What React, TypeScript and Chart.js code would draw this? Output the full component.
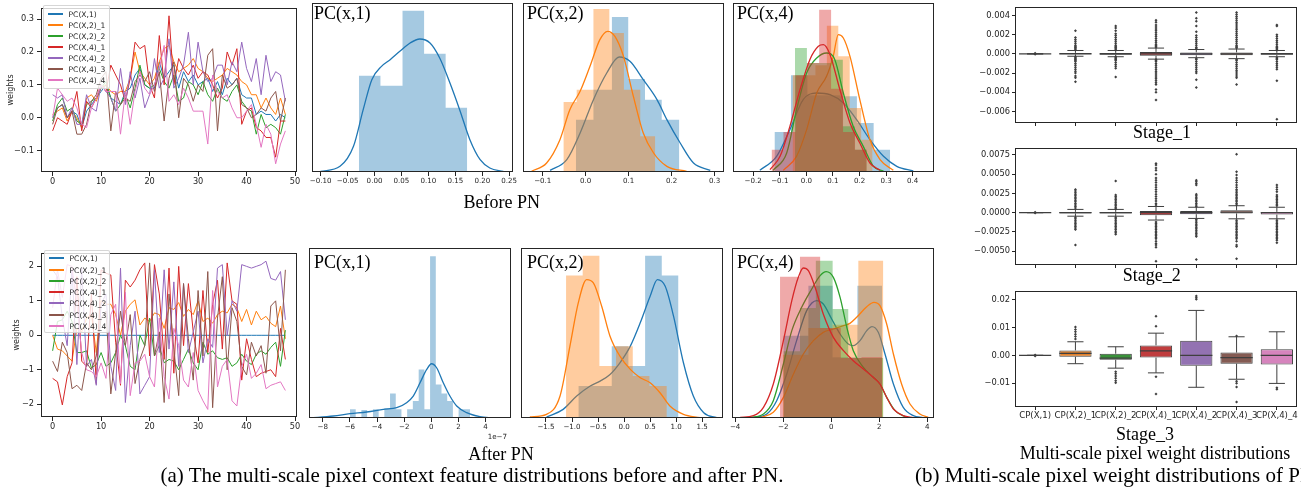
import React, { useEffect, useRef } from "react";
import { Chart, registerables } from "chart.js";

Chart.register(...registerables);

// ===================== DATA =====================
const SERIES_NAMES = ["PC(X,1)", "PC(X,2)_1", "PC(X,2)_2", "PC(X,4)_1", "PC(X,4)_2", "PC(X,4)_3", "PC(X,4)_4"];
const LINE_X_TICKS = [0, 10, 20, 30, 40, 50];
const BEFORE_Y_TICKS = [-0.1, 0, 0.1, 0.2, 0.3];
const AFTER_Y_TICKS = [-2, -1, 0, 1, 2];

// ---- line chart, before PN ----
const BEFORE_PC1 = [
  0.00, 0.03, 0.04, 0.00, 0.02, 0.01, -0.03, 0.02, 0.04, 0.06,
  0.08, 0.10, 0.06, 0.05, 0.04, 0.08, 0.09, 0.13, 0.15, 0.10,
  0.09, 0.09, 0.17, 0.12, 0.14, 0.16, 0.09, 0.14, 0.11, 0.13,
  0.10, 0.11, 0.12, 0.08, 0.11, 0.07, 0.12, 0.10, 0.12, 0.07,
  0.06, 0.06, 0.01, 0.02, 0.01, 0.01, -0.01, 0.01, 0.00];
const BEFORE_PC2_1 = [
  0.01, 0.02, 0.03, -0.01, 0.02, 0.00, -0.03, 0.06, 0.07, 0.05,
  0.09, 0.10, 0.08, 0.07, 0.08, 0.08, 0.12, 0.20, 0.14, 0.12,
  0.10, 0.12, 0.17, 0.21, 0.22, 0.17, 0.14, 0.15, 0.16, 0.18,
  0.15, 0.14, 0.12, 0.11, 0.12, 0.13, 0.15, 0.14, 0.13, 0.11,
  0.10, 0.07, 0.07, 0.03, 0.06, 0.03, 0.01, 0.06, 0.01];
const BEFORE_PC2_2 = [
  -0.01, 0.04, 0.06, 0.02, 0.03, -0.01, -0.02, 0.04, 0.05, 0.06,
  0.09, 0.11, 0.06, 0.02, 0.04, 0.07, 0.03, 0.09, 0.16, 0.10,
  0.09, 0.10, 0.15, 0.11, 0.09, 0.13, 0.05, 0.06, 0.11, 0.10,
  0.07, 0.11, 0.07, 0.05, 0.09, 0.06, 0.05, 0.08, 0.10, 0.05,
  0.03, 0.02, -0.05, 0.01, -0.03, -0.02, -0.03, -0.05, 0.01];
const BEFORE_PC4_1 = [
  -0.04, 0.00, -0.01, -0.02, 0.02, 0.08, -0.04, 0.05, 0.03, 0.06,
  0.10, 0.08, 0.16, 0.13, 0.10, 0.05, 0.12, 0.23, 0.21, 0.22,
  0.10, 0.06, 0.25, 0.10, 0.31, 0.10, 0.18, 0.15, 0.13, 0.16,
  0.12, 0.14, 0.13, 0.10, 0.06, 0.09, 0.20, 0.16, 0.21, -0.02,
  0.02, 0.03, -0.03, -0.04, -0.06, -0.06, -0.12, -0.01, -0.01];
const BEFORE_PC4_2 = [
  0.07, 0.06, 0.07, 0.00, 0.03, -0.02, -0.02, 0.07, 0.03, 0.02,
  0.10, 0.08, 0.06, 0.02, 0.15, 0.04, 0.14, 0.06, 0.12, 0.03,
  0.07, 0.18, 0.09, 0.12, 0.24, 0.09, 0.12, 0.16, 0.26, 0.10,
  0.23, 0.14, 0.11, 0.12, 0.16, 0.16, 0.10, 0.17, 0.14, 0.23,
  0.15, 0.11, 0.18, 0.07, 0.19, 0.11, 0.14, 0.13, 0.05];
const BEFORE_PC4_3 = [
  -0.02, 0.03, 0.04, 0.00, 0.02, -0.05, -0.05, -0.02, 0.05, 0.07,
  0.12, 0.14, -0.04, 0.08, 0.04, 0.06, 0.05, 0.11, 0.13, 0.11,
  0.14, 0.08, 0.14, -0.01, 0.12, 0.17, 0.00, 0.12, 0.10, 0.05,
  0.10, 0.08, 0.19, 0.21, -0.04, 0.13, 0.09, 0.10, 0.12, 0.04,
  0.03, 0.00, 0.01, 0.03, 0.02, 0.06, 0.08, -0.01, 0.06];
const BEFORE_PC4_4 = [
  0.00, 0.09, 0.07, 0.05, 0.06, 0.03, -0.02, -0.03, 0.03, 0.06,
  0.10, 0.08, 0.08, 0.08, -0.05, 0.08, -0.02, 0.08, 0.14, 0.09,
  0.07, 0.10, 0.15, 0.22, 0.05, 0.07, 0.04, 0.09, 0.06, 0.02,
  0.02, 0.02, -0.08, 0.13, 0.08, 0.06, 0.07, 0.03, 0.00, 0.00,
  0.02, 0.04, -0.02, -0.09, -0.02, -0.05, -0.14, -0.08, -0.04];

// ---- line chart, after PN ----
const AFTER_PC1 = [
  0, 0, 0, 0, 0, 0, 0, 0, 0, 0,
  0, 0, 0, 0, 0, 0, 0, 0, 0, 0,
  0, 0, 0, 0, 0, 0, 0, 0, 0, 0,
  0, 0, 0, 0, 0, 0, 0, 0, 0, 0,
  0, 0, 0, 0, 0, 0, 0, 0, 0];
const AFTER_PC2_1 = [
  0.00, -0.40, -0.45, -0.60, -0.75, 0.20, 0.10, 0.50, 0.60, -0.50,
  1.00, 0.90, 0.90, 0.60, 0.00, 0.70, 0.90, 1.03, 0.30, 0.50,
  0.40, 0.65, 0.60, 0.20, 0.80, 0.75, 0.95, 0.55, 0.75, 0.60,
  1.00, 0.40, 0.50, 0.35, 0.60, 0.70, 0.65, 0.90, 0.80, 0.40,
  0.75, 0.30, 0.70, 0.45, 0.55, 0.35, 0.25, 0.85, -0.10];
const AFTER_PC2_2 = [
  -0.45, 0.40, 0.45, 0.70, 0.40, -0.50, -0.50, -0.45, -0.95, -0.85,
  -0.50, -0.90, -0.80, -0.50, 0.00, -0.30, -0.90, -1.00, 0.00, -0.30,
  0.50, -0.60, -0.30, -0.80, -0.70, -0.75, -1.00, -0.70, -0.40, -0.80,
  -1.00, -0.20, -0.55, -0.45, -0.65, -0.70, -0.65, -0.90, -0.80, -0.55,
  -0.75, -0.85, -0.55, -0.45, -0.55, -0.35, -0.20, -0.90, 0.15];
const AFTER_PC4_1 = [
  -1.25, -1.35, -2.02, -1.20, -0.80, 1.70, -0.75, -0.90, 1.20, -1.40,
  1.90, 1.80, 1.75, -0.20, -1.45, 1.60, 1.40, 1.60, 1.90, 2.10,
  -0.60, 2.05, 1.20, -0.70, 1.95, -1.10, 2.00, -0.30, 1.50, 0.10,
  -0.80, 1.30, -0.50, 0.90, 1.60, -0.40, 2.10, 1.00, 0.90, -1.30,
  -0.10, -0.70, -1.20, -1.10, -1.05, -1.00, -1.20, 0.20, -0.70];
const AFTER_PC4_2 = [
  1.90, 1.70, 0.50, -0.30, 1.90, -0.85, 1.95, -0.90, -0.70, -1.45,
  0.90, 1.20, -0.90, -1.60, 1.95, -1.95, -0.30, 0.70, -1.70, -1.45,
  -1.20, 1.90, -0.50, 1.90, -0.40, 1.55, -0.90, 1.50, -0.50, 0.10,
  0.70, -0.80, -0.10, -0.35, 1.95, 2.05, 0.00, 1.00, 0.70, 2.05,
  2.00, 1.95, 2.00, 2.05, 2.15, 1.65, 1.60, 1.85, 0.45];
const AFTER_PC4_3 = [
  -0.75, -1.05, -0.20, -0.50, -1.55, -1.45, -1.60, -0.80, -1.00, -0.60,
  0.50, 0.70, -1.70, -0.50, 0.70, -0.30, 0.60, -1.40, -0.70, -0.30,
  2.10, -0.60, 0.10, -1.95, 1.20, -0.40, -1.75, 1.50, -0.10, -1.30,
  1.30, -0.60, 1.85, -2.10, 0.50, 1.70, -1.00, 0.80, 0.40, -0.90,
  -1.15, -0.20, -0.60, -0.30, -1.10, 0.85, 1.00, -0.45, 1.90];
const AFTER_PC4_4 = [
  0.80, 1.90, 1.10, 2.05, 2.00, 0.90, -0.50, -1.00, -1.05, -1.20,
  -0.80, -1.25, 0.60, 0.90, -1.40, 1.25, -1.75, -0.80, -0.75, -0.55,
  -1.20, -1.50, 0.50, -1.20, -1.85, 0.20, -0.30, -1.30, -1.50, -0.50,
  -1.60, -1.90, -2.15, 1.30, -1.50, -0.90, -0.70, -1.90, -2.05, -0.90,
  -0.55, -1.25, -1.10, -0.85, -1.55, -1.45, -1.40, -1.35, -1.60];

// ---- histograms (relative density) + KDE curves ----
const H1_TICKS = [-0.1, -0.05, 0, 0.05, 0.1, 0.15, 0.2, 0.25];
const B1_BLUE_EDGES = [-0.029, 0.011, 0.052, 0.092, 0.132, 0.172];
const B1_BLUE_H = [2.89, 2.59, 4.84, 3.55, 1.93];
const B1_BLUE_KX = [-0.100, -0.064, -0.039, -0.021, -0.005, 0.013, 0.029, 0.047, 0.066, 0.084, 0.103, 0.121, 0.140, 0.158, 0.177, 0.196, 0.214, 0.239];
const B1_BLUE_KY = [0.02, 0.17, 0.77, 1.87, 2.77, 3.17, 3.37, 3.62, 3.87, 3.99, 3.87, 3.42, 2.67, 1.87, 0.97, 0.37, 0.12, 0.02];

const H2_TICKS = [-0.1, 0, 0.1, 0.2, 0.3];
const B2_BLUE_EDGES = [-0.023, 0.018, 0.061, 0.099, 0.138, 0.177, 0.218];
const B2_BLUE_H = [1.57, 2.47, 4.65, 2.79, 2.17, 1.57];
const B2_BLUE_KX = [-0.083, -0.044, -0.013, 0.018, 0.049, 0.078, 0.103, 0.134, 0.166, 0.189, 0.220, 0.251, 0.290];
const B2_BLUE_KY = [0.05, 0.37, 1.17, 2.17, 2.97, 3.45, 3.32, 2.77, 2.17, 1.57, 0.87, 0.27, 0.05];
const B2_ORANGE_EDGES = [-0.052, -0.021, 0.018, 0.055, 0.089, 0.127, 0.162];
const B2_ORANGE_H = [2.10, 2.47, 4.89, 4.17, 2.47, 1.07];
const B2_ORANGE_KX = [-0.126, -0.091, -0.060, -0.037, -0.013, 0.010, 0.033, 0.051, 0.068, 0.088, 0.111, 0.134, 0.158, 0.189, 0.235];
const B2_ORANGE_KY = [0.02, 0.27, 0.97, 1.87, 2.42, 3.17, 3.97, 4.22, 4.07, 3.47, 2.27, 1.17, 0.57, 0.17, 0.02];

const H3_TICKS = [-0.2, -0.1, 0, 0.1, 0.2, 0.3, 0.4];
const B4_BLUE_EDGES = [-0.12, -0.058, 0.004, 0.066, 0.128, 0.190, 0.253, 0.315];
const B4_BLUE_H = [1.20, 2.90, 2.30, 2.30, 2.27, 1.47, 0.67];
const B4_BLUE_KX = [-0.175, -0.112, -0.062, -0.012, 0.039, 0.089, 0.139, 0.189, 0.239, 0.290, 0.340, 0.402];
const B4_BLUE_KY = [0.05, 0.47, 1.27, 2.17, 2.37, 2.32, 2.07, 1.57, 0.97, 0.47, 0.17, 0.03];
const B4_ORANGE_EDGES = [-0.052, -0.009, 0.034, 0.077, 0.120, 0.163, 0.206, 0.249];
const B4_ORANGE_H = [2.90, 2.90, 3.20, 4.39, 3.47, 1.92, 0.97];
const B4_ORANGE_KX = [-0.087, -0.037, 0.001, 0.039, 0.076, 0.101, 0.120, 0.139, 0.164, 0.201, 0.239, 0.277, 0.327];
const B4_ORANGE_KY = [0.05, 0.47, 1.27, 2.37, 2.87, 3.47, 4.12, 4.02, 3.47, 2.17, 0.97, 0.37, 0.05];
const B4_GREEN_EDGES = [-0.043, 0.002, 0.047, 0.092, 0.137, 0.182, 0.227];
const B4_GREEN_H = [3.72, 3.27, 3.27, 3.37, 1.37, 0.67];
const B4_GREEN_KX = [-0.125, -0.074, -0.037, 0.001, 0.039, 0.076, 0.107, 0.139, 0.176, 0.214, 0.252, 0.290];
const B4_GREEN_KY = [0.05, 0.57, 1.87, 2.97, 3.42, 3.57, 3.37, 2.37, 1.37, 0.77, 0.17, 0.03];
const B4_RED_EDGES = [-0.131, -0.086, -0.041, 0.004, 0.048, 0.093, 0.138, 0.183, 0.227];
const B4_RED_H = [0.67, 1.20, 2.90, 3.27, 4.87, 2.50, 1.20, 0.67];
const B4_RED_KX = [-0.137, -0.099, -0.062, -0.024, 0.013, 0.045, 0.064, 0.089, 0.126, 0.164, 0.201, 0.239, 0.277];
const B4_RED_KY = [0.07, 0.47, 1.37, 2.47, 3.37, 3.77, 3.82, 3.52, 2.47, 1.47, 0.87, 0.27, 0.05];

const H4_TICKS = [-8, -6, -4, -2, 0, 2, 4];
const A1_BLUE_EDGES = [-5.99, -5.57, -5.15, -4.73, -4.30, -3.88, -3.46, -3.04, -2.62, -2.20, -1.78, -1.36, -0.93, -0.51, -0.09, 0.33, 0.75, 1.17, 1.59, 2.01, 2.43, 2.85];
const A1_BLUE_H = [0.26, 0, 0.24, 0, 0.26, 0, 0.29, 0.74, 0.26, 0, 0.26, 0.51, 1.46, 0.26, 4.86, 1.01, 0.74, 0.51, 0, 0.26, 0.26];
const A1_BLUE_KX = [-8.93, -7.21, -5.99, -4.76, -3.53, -2.55, -1.82, -1.33, -0.83, -0.34, 0.02, 0.39, 0.88, 1.37, 1.87, 2.60, 3.58, 4.56];
const A1_BLUE_KY = [0.00, 0.06, 0.13, 0.18, 0.26, 0.31, 0.46, 0.66, 1.06, 1.46, 1.63, 1.51, 1.06, 0.66, 0.36, 0.16, 0.04, 0.00];

const H5_TICKS = [-1.5, -1, -0.5, 0, 0.5, 1, 1.5];
const A2_BLUE_EDGES = [-0.878, -0.558, -0.237, 0.083, 0.404, 0.724, 1.045];
const A2_BLUE_H = [0.96, 0.96, 2.16, 1.56, 4.88, 4.28];
const A2_BLUE_KX = [-1.49, -1.17, -0.91, -0.65, -0.46, -0.27, -0.08, 0.12, 0.31, 0.50, 0.64, 0.79, 0.95, 1.14, 1.33, 1.53, 1.78];
const A2_BLUE_KY = [0.03, 0.26, 0.66, 0.96, 1.11, 1.31, 1.66, 2.16, 2.86, 3.66, 4.16, 3.96, 3.06, 1.66, 0.66, 0.16, 0.01];
const A2_ORANGE_EDGES = [-1.115, -0.795, -0.474, -0.154, 0.167, 0.487, 0.821];
const A2_ORANGE_H = [4.28, 4.88, 1.56, 2.16, 1.26, 0.96];
const A2_ORANGE_KX = [-1.81, -1.49, -1.23, -1.04, -0.88, -0.72, -0.59, -0.43, -0.27, -0.08, 0.12, 0.31, 0.50, 0.69, 0.88, 1.14, 1.46];
const A2_ORANGE_KY = [0.03, 0.11, 0.66, 2.16, 3.46, 4.16, 4.06, 3.36, 2.46, 1.86, 1.46, 1.21, 1.06, 0.76, 0.36, 0.11, 0.01];

const H6_TICKS = [-4, -2, 0, 2, 4];
const A4_BLUE_EDGES = [-1.99, -0.95, 0.06, 1.09, 2.12];
const A4_BLUE_H = [2.47, 3.97, 1.82, 3.97];
const A4_BLUE_KX = [-3.24, -2.68, -2.27, -1.85, -1.44, -1.02, -0.60, -0.33, 0.02, 0.37, 0.71, 0.92, 1.20, 1.48, 1.70, 1.96, 2.24, 2.59, 3.00, 3.42, 3.83];
const A4_BLUE_KY = [0.01, 0.12, 0.52, 1.32, 2.32, 3.22, 3.52, 3.42, 2.97, 2.52, 2.22, 2.17, 2.32, 2.62, 2.74, 2.57, 1.92, 1.02, 0.32, 0.07, 0.01];
const A4_ORANGE_EDGES = [-2.02, -0.95, 0.06, 1.13, 2.17];
const A4_ORANGE_H = [1.90, 2.70, 2.80, 4.72];
const A4_ORANGE_KX = [-2.96, -2.41, -1.99, -1.57, -1.16, -0.74, -0.33, 0.09, 0.51, 0.78, 1.06, 1.48, 1.78, 2.03, 2.31, 2.59, 2.93, 3.28, 3.69, 4.04];
const A4_ORANGE_KY = [0.01, 0.17, 0.62, 1.32, 1.92, 2.32, 2.57, 2.67, 2.77, 2.84, 3.02, 3.34, 3.47, 3.37, 2.82, 1.92, 1.02, 0.42, 0.12, 0.02];
const A4_GREEN_EDGES = [-1.99, -1.30, -0.64, 0.06, 0.71, 1.45, 2.17];
const A4_GREEN_H = [2.00, 3.30, 4.72, 3.27, 1.80, 1.80];
const A4_GREEN_KX = [-3.38, -2.82, -2.41, -1.99, -1.64, -1.23, -0.81, -0.46, -0.21, 0.09, 0.37, 0.65, 0.92, 1.34, 1.75, 2.03, 2.31, 2.66, 3.14];
const A4_GREEN_KY = [0.01, 0.12, 0.52, 1.62, 2.62, 3.32, 3.87, 4.27, 4.39, 4.22, 3.62, 2.72, 2.02, 1.52, 1.22, 1.02, 0.62, 0.22, 0.02];
const A4_RED_EDGES = [-2.13, -1.30, -0.46, 0.40, 1.26, 2.12];
const A4_RED_H = [4.24, 4.84, 2.70, 1.80, 1.82];
const A4_RED_KX = [-3.79, -3.24, -2.82, -2.41, -1.99, -1.64, -1.37, -1.16, -0.95, -0.67, -0.33, 0.09, 0.51, 0.92, 1.34, 1.75, 2.03, 2.31, 2.59, 3.00, 3.42];
const A4_RED_KY = [0.02, 0.07, 0.32, 1.02, 2.32, 3.52, 4.22, 4.50, 4.42, 3.92, 3.12, 2.42, 2.02, 1.72, 1.47, 1.22, 1.02, 0.62, 0.27, 0.07, 0.01];

// ---- box plots ----
const BOX_CATS = ["CP(X,1)", "CP(X,2)_1", "CP(X,2)_2", "CP(X,4)_1", "CP(X,4)_2", "CP(X,4)_3", "CP(X,4)_4"];
const S1_TICKS = [-0.006, -0.004, -0.002, 0, 0.002, 0.004];
const S1_Q1 = [0, -0.00005, -0.0001, -0.0002, -0.00015, -0.00015, -0.0001];
const S1_MED = [0, 0, 0, 0, 0, 0, 0];
const S1_Q3 = [0, 0.0001, 0.0001, 0.0002, 0.00015, 0.00015, 0.0001];
const S1_LO = [0, -0.00025, -0.0003, -0.00055, -0.0004, -0.0005, -0.0003];
const S1_HI = [0, 0.00035, 0.00035, 0.0006, 0.00045, 0.0005, 0.00035];
const S1_OUT = [
  [0.00005, -0.00003],
  [0.0024, 0.0017, 0.0015, 0.0013, 0.0011, 0.0009, 0.0008, 0.0007, 0.0006, 0.0005, 0.0004, -0.0003, -0.0004, -0.0005, -0.0006, -0.0007, -0.0008, -0.001, -0.0012, -0.0014, -0.0016, -0.0018, -0.002, -0.0023, -0.0025, -0.0029],
  [0.0029, 0.0027, 0.0024, 0.0021, 0.0019, 0.0017, 0.0015, 0.0013, 0.0011, 0.0009, 0.0008, 0.0007, 0.0006, 0.0005, 0.0004, -0.0003, -0.0004, -0.0005, -0.0006, -0.0007, -0.0009, -0.0011, -0.0013, -0.0015, -0.0024],
  [0.0035, 0.0033, 0.003, 0.0028, 0.0026, 0.0024, 0.0022, 0.002, 0.0018, 0.0016, 0.0014, 0.0012, 0.001, 0.0009, 0.0008, 0.0007, -0.0006, -0.0007, -0.0008, -0.001, -0.0012, -0.0014, -0.0016, -0.0018, -0.002, -0.0022, -0.0024, -0.0026, -0.0028, -0.003, -0.0032, -0.0037, -0.004, -0.0048],
  [0.0043, 0.0037, 0.0034, 0.0029, 0.0023, 0.0019, 0.0017, 0.0015, 0.0013, 0.0011, 0.0009, 0.0007, 0.0006, 0.0005, -0.0005, -0.0006, -0.0008, -0.001, -0.0012, -0.0014, -0.0016, -0.0018, -0.002, -0.0027, -0.0035],
  [0.0043, 0.0041, 0.0039, 0.0037, 0.0035, 0.0033, 0.0031, 0.0029, 0.0027, 0.0025, 0.0023, 0.0021, 0.0019, 0.0017, 0.0015, 0.0013, 0.0011, 0.0009, 0.0008, 0.0007, 0.0006, -0.0006, -0.0007, -0.0009, -0.0011, -0.0013, -0.0015, -0.0017, -0.0019, -0.0021, -0.0023, -0.0025, -0.0032],
  [0.003, 0.0029, 0.002, 0.0018, 0.0016, 0.0014, 0.0012, 0.001, 0.0008, 0.0007, 0.0006, 0.0005, 0.0004, -0.0004, -0.0005, -0.0006, -0.0008, -0.001, -0.0012, -0.0014, -0.0016, -0.0028, -0.0068],
];

const S2_TICKS = [-0.005, -0.0025, 0, 0.0025, 0.005, 0.0075];
const S2_Q1 = [0, -0.0001, -0.0001, -0.00035, -0.0002, -0.0001, -0.00025];
const S2_MED = [0, 0, 0, 0, 0, 0.00005, 0];
const S2_Q3 = [0, 0.0001, 0.0001, 0.0002, 0.0002, 0.0003, 0.0001];
const S2_LO = [0, -0.00046, -0.00046, -0.00096, -0.00075, -0.0008, -0.0008];
const S2_HI = [0, 0.00042, 0.00042, 0.0008, 0.0007, 0.0009, 0.0007];
const S2_OUT = [
  [0.00005, -0.00005],
  [0.003, 0.0028, 0.0026, 0.0024, 0.0022, 0.002, 0.0018, 0.0016, 0.0014, 0.0012, 0.001, 0.0008, 0.0006, -0.0006, -0.0008, -0.001, -0.0012, -0.0014, -0.0016, -0.0018, -0.002, -0.0022, -0.0042],
  [0.0041, 0.0023, 0.0021, 0.0019, 0.0017, 0.0015, 0.0013, 0.0011, 0.0009, 0.0007, 0.0005, -0.0006, -0.0008, -0.001, -0.0012, -0.0014, -0.0016, -0.0018, -0.002, -0.0022, -0.0024, -0.0026, -0.0028],
  [0.0064, 0.0062, 0.0058, 0.0055, 0.005, 0.0045, 0.0042, 0.0039, 0.0036, 0.0033, 0.003, 0.0027, 0.0024, 0.0021, 0.0018, 0.0015, 0.0012, 0.001, -0.0012, -0.0014, -0.0016, -0.0018, -0.002, -0.0022, -0.0024, -0.0026, -0.0028, -0.003, -0.0032, -0.0034, -0.0037, -0.004, -0.0042, -0.0045, -0.0063],
  [0.0042, 0.004, 0.0038, 0.0036, 0.0024, 0.0022, 0.002, 0.0018, 0.0016, 0.0014, 0.0012, 0.001, 0.0008, -0.0009, -0.0011, -0.0013, -0.0015, -0.0017, -0.0019, -0.0021, -0.0023, -0.0025, -0.0027, -0.0029, -0.0031, -0.0061],
  [0.0076, 0.0053, 0.0049, 0.0045, 0.0042, 0.0039, 0.0036, 0.0033, 0.003, 0.0028, 0.0026, 0.0024, 0.0022, 0.002, 0.0018, 0.0016, 0.0014, 0.0012, 0.001, -0.001, -0.0012, -0.0014, -0.0016, -0.0018, -0.002, -0.0022, -0.0024, -0.0026, -0.0028, -0.003, -0.0032, -0.0034, -0.0037, -0.0042, -0.0044, -0.006],
  [0.0036, 0.0033, 0.003, 0.0027, 0.0023, 0.0021, 0.0019, 0.0017, 0.0015, 0.0013, 0.0011, 0.0009, -0.001, -0.0012, -0.0014, -0.0016, -0.0018, -0.002, -0.0022, -0.0024, -0.0026, -0.0028, -0.003, -0.0032, -0.0034, -0.0036, -0.0039],
];

const S3_TICKS = [-0.01, 0, 0.01, 0.02];
const S3_Q1 = [0, -0.0005, -0.0016, -0.0008, -0.0037, -0.003, -0.0033];
const S3_MED = [0, 0.0007, -0.001, 0.0016, 0, -0.0008, 0];
const S3_Q3 = [0, 0.0018, 0.0006, 0.0036, 0.0053, 0.001, 0.0022];
const S3_LO = [0, -0.003, -0.0046, -0.0063, -0.0115, -0.0086, -0.0101];
const S3_HI = [0, 0.0049, 0.0031, 0.008, 0.0162, 0.0067, 0.0085];
const S3_OUT = [
  [0.0001, -0.0002],
  [0.0102, 0.0093, 0.0085, 0.0076, 0.0068, 0.0059],
  [-0.0059, -0.0066, -0.0074, -0.0082, -0.0091, -0.0099],
  [0.0141, 0.0105, -0.0077, -0.0139],
  [0.0214, 0.0208, 0.0202],
  [0.007, -0.0093, -0.01, -0.0114, -0.0168],
  [-0.0117, -0.0122],
];

// ===================== STYLE =====================
const TAB = ["#1f77b4", "#ff7f0e", "#2ca02c", "#d62728", "#9467bd", "#8c564b", "#e377c2"];
const TAB_FILL = ["rgba(31,119,180,0.4)", "rgba(255,127,14,0.4)", "rgba(44,160,44,0.4)", "rgba(214,39,40,0.4)"];
const BOX_FILL = ["#3274a1", "#e1812c", "#3a923a", "#c03d3e", "#9372b2", "#845b53", "#d684bd"];
const BOX_LINE = "#3f3f3f";
const FRAME = "#262626";
const TEXT = "#262626";
const SANS = "'DejaVu Sans', sans-serif";
const SERIF = "'Liberation Serif', 'Times New Roman', serif";

type Box = { l: number; t: number; r: number; b: number };
type Margin = { left: number; top: number; right: number; bottom: number };

const fmt = (v: number, d: number) => (v < -1e-12 ? "\u2212" : "") + Math.abs(v).toFixed(d);

function framePlugin(color: string) {
  return {
    id: "frame",
    afterDatasetsDraw(chart: any) {
      const { ctx, chartArea: a } = chart;
      const l = Math.round(a.left), t = Math.round(a.top), r = Math.round(a.right), b = Math.round(a.bottom);
      ctx.save();
      ctx.strokeStyle = color;
      ctx.lineWidth = 1;
      ctx.strokeRect(l + 0.5, t + 0.5, r - l - 1, b - t - 1);
      ctx.restore();
    },
  };
}

function linAxis(min: number, max: number, ticks: number[], dec: number, fontSize: number, size: number, tickLen = 4, pad = 2) {
  return {
    type: "linear",
    min,
    max,
    afterBuildTicks: (s: any) => {
      s.ticks = ticks.map((v) => ({ value: v }));
    },
    afterFit: (s: any) => {
      if (s.isHorizontal()) s.height = size;
      else s.width = size;
    },
    ticks: {
      font: { family: SANS, size: fontSize },
      color: TEXT,
      padding: pad,
      maxRotation: 0,
      minRotation: 0,
      autoSkip: false,
      callback: (v: any) => fmt(Number(v), dec),
    },
    grid: { drawOnChartArea: false, drawTicks: true, tickLength: tickLen, color: FRAME, lineWidth: 1 },
    border: { display: false },
  };
}

const baseOpts = (m: Margin, leftPad: number) => ({
  responsive: false,
  animation: false,
  events: [],
  layout: { padding: { left: leftPad, top: m.top, right: m.right, bottom: 0 } },
  plugins: { legend: { display: false }, tooltip: { enabled: false }, title: { display: false } },
});

function lineConfig(series: number[][], yMin: number, yMax: number, yTicks: number[], yDec: number, m: Margin, titlePad: number) {
  return {
    type: "line",
    data: {
      datasets: series.map((arr, i) => ({
        label: SERIES_NAMES[i],
        data: arr.map((v, j) => ({ x: j, y: v })),
        borderColor: TAB[i],
        backgroundColor: TAB[i],
        borderWidth: 1,
        pointRadius: 0,
        tension: 0,
        fill: false,
        order: 100 - i,
      })),
    },
    options: {
      ...baseOpts(m, 0),
      scales: {
        x: linAxis(-2.4, 50.4, LINE_X_TICKS, 0, 8.2, m.bottom, 4, 1),
        y: {
          ...linAxis(yMin, yMax, yTicks, yDec, 8.2, m.left, 4, 3),
          title: { display: true, text: "weights", font: { family: SANS, size: 8 }, color: TEXT, padding: { top: titlePad, bottom: 0 } },
        },
      },
    },
    plugins: [framePlugin(FRAME)],
  };
}

type HistSeries = { edges: number[]; heights: number[]; kx: number[]; ky: number[]; c: number };

function histConfig(xMin: number, xMax: number, yMax: number, ticks: number[], dec: number, series: HistSeries[], m: Margin) {
  const datasets: any[] = [];
  series.forEach((s, i) => {
    const pts = [
      { x: s.edges[0], y: 0 },
      ...s.heights.map((h, k) => ({ x: s.edges[k], y: h })),
      { x: s.edges[s.edges.length - 1], y: 0 },
    ];
    datasets.push({
      data: pts,
      stepped: true,
      fill: "origin",
      backgroundColor: TAB_FILL[s.c],
      borderColor: "rgba(0,0,0,0)",
      borderWidth: 1,
      pointRadius: 0,
      order: 100 - 2 * i,
    });
    datasets.push({
      data: s.kx.map((x, k) => ({ x, y: s.ky[k] })),
      borderColor: TAB[s.c],
      borderWidth: 1.3,
      pointRadius: 0,
      cubicInterpolationMode: "monotone",
      fill: false,
      order: 99 - 2 * i,
    });
  });
  return {
    type: "line",
    data: { datasets },
    options: {
      ...baseOpts(m, m.left),
      scales: {
        x: linAxis(xMin, xMax, ticks, dec, 7.1, m.bottom, 4, 1),
        y: { type: "linear", display: false, min: 0, max: yMax },
      },
    },
    plugins: [framePlugin(FRAME)],
  };
}

type Stage = { q1: number[]; med: number[]; q3: number[]; lo: number[]; hi: number[]; out: number[][] };

function whiskerPlugin(st: Stage) {
  return {
    id: "whiskers",
    beforeDatasetsDraw(chart: any) {
      const { ctx, scales } = chart;
      const meta = chart.getDatasetMeta(0);
      ctx.save();
      ctx.strokeStyle = BOX_LINE;
      ctx.lineWidth = 1;
      st.q1.forEach((q1, i) => {
        const el: any = meta.data[i];
        const cx = scales.x.getPixelForValue(i);
        const hw = el.width / 2;
        const py = (v: number) => scales.y.getPixelForValue(v);
        ctx.beginPath();
        ctx.moveTo(cx, py(st.q3[i]));
        ctx.lineTo(cx, py(st.hi[i]));
        ctx.moveTo(cx, py(q1));
        ctx.lineTo(cx, py(st.lo[i]));
        ctx.moveTo(cx - hw / 2, py(st.hi[i]));
        ctx.lineTo(cx + hw / 2, py(st.hi[i]));
        ctx.moveTo(cx - hw / 2, py(st.lo[i]));
        ctx.lineTo(cx + hw / 2, py(st.lo[i]));
        ctx.stroke();
      });
      ctx.restore();
    },
    afterDatasetsDraw(chart: any) {
      const { ctx, scales } = chart;
      const meta = chart.getDatasetMeta(0);
      ctx.save();
      ctx.strokeStyle = BOX_LINE;
      ctx.lineWidth = 1.2;
      st.med.forEach((md, i) => {
        const el: any = meta.data[i];
        const cx = scales.x.getPixelForValue(i);
        const hw = el.width / 2;
        const y = scales.y.getPixelForValue(md);
        ctx.beginPath();
        ctx.moveTo(cx - hw, y);
        ctx.lineTo(cx + hw, y);
        ctx.stroke();
      });
      ctx.restore();
    },
  };
}

function boxConfig(st: Stage, yMin: number, yMax: number, ticks: number[], dec: number, showX: boolean, m: Margin) {
  const outliers = st.out.flatMap((arr, i) => arr.map((v) => ({ x: BOX_CATS[i], y: v })));
  return {
    type: "bar",
    data: {
      labels: BOX_CATS,
      datasets: [
        {
          type: "bar",
          data: st.q1.map((q, i) => [q, st.q3[i]]),
          backgroundColor: BOX_FILL,
          borderColor: BOX_LINE,
          borderWidth: 1,
          borderSkipped: false,
          barPercentage: 0.8,
          categoryPercentage: 1,
          order: 3,
        },
        {
          type: "scatter",
          data: outliers,
          showLine: false,
          pointStyle: "rectRot",
          pointRadius: 1.5,
          pointBackgroundColor: BOX_LINE,
          pointBorderWidth: 0,
          order: 1,
        },
      ],
    },
    options: {
      ...baseOpts(m, 0),
      scales: {
        x: {
          type: "category",
          offset: true,
          afterFit: (s: any) => {
            s.height = m.bottom;
          },
          grid: { offset: false, drawOnChartArea: false, drawTicks: true, tickLength: 3, color: FRAME },
          border: { display: false },
          ticks: { display: showX, font: { family: SANS, size: 8.6 }, color: TEXT, padding: 1, maxRotation: 0, minRotation: 0, autoSkip: false },
        },
        y: linAxis(yMin, yMax, ticks, dec, 8.3, m.left, 3, 2),
      },
    },
    plugins: [whiskerPlugin(st), framePlugin(FRAME)],
  };
}

function Panel({ box, m, build }: { box: Box; m: Margin; build: () => any }) {
  const ref = useRef<HTMLCanvasElement>(null);
  useEffect(() => {
    const chart = new Chart(ref.current as HTMLCanvasElement, build());
    return () => chart.destroy();
  }, []);
  const w = box.r - box.l + m.left + m.right;
  const h = box.b - box.t + m.top + m.bottom;
  return (
    <canvas
      ref={ref}
      width={w}
      height={h}
      style={{ position: "absolute", left: box.l - m.left, top: box.t - m.top, width: w, height: h }}
    />
  );
}

function Txt({ x, base, fs, font, anchor = "left", color = "#000", children }: any) {
  const style: any = {
    position: "absolute",
    top: base - 0.84 * fs,
    fontFamily: font,
    fontSize: fs,
    lineHeight: `${fs}px`,
    whiteSpace: "nowrap",
    color,
  };
  if (anchor === "center") {
    style.left = x;
    style.transform = "translateX(-50%)";
  } else if (anchor === "right") {
    style.right = 1301 - x;
  } else style.left = x;
  return <div style={style}>{children}</div>;
}

function Legend({ left, top, width, height, first, gap }: any) {
  return (
    <div
      style={{
        position: "absolute",
        left,
        top,
        width,
        height,
        boxSizing: "border-box",
        border: "1px solid rgba(204,204,204,0.8)",
        borderRadius: 2,
        background: "rgba(255,255,255,0.8)",
      }}
    >
      {SERIES_NAMES.map((n, i) => {
        const cy = Math.round(first + i * gap);
        return (
          <React.Fragment key={n}>
            <div style={{ position: "absolute", left: 4, top: cy - 1, width: 15, height: 2, background: TAB[i] }} />
            <div
              style={{
                position: "absolute",
                left: 24.5,
                top: cy - 4.3,
                fontFamily: SANS,
                fontSize: 7.6,
                lineHeight: "9px",
                color: TEXT,
                whiteSpace: "nowrap",
              }}
            >
              {n}
            </div>
          </React.Fragment>
        );
      })}
    </div>
  );
}

// ===================== LAYOUT =====================
const L1: Box = { l: 41, t: 3, r: 297, b: 172 };
const H1: Box = { l: 312, t: 3, r: 513, b: 172 };
const H2: Box = { l: 523, t: 3, r: 724, b: 172 };
const H3: Box = { l: 733, t: 3, r: 934, b: 172 };
const L2: Box = { l: 41, t: 248, r: 297, b: 417 };
const H4: Box = { l: 309, t: 248, r: 511, b: 418 };
const H5: Box = { l: 521, t: 248, r: 723, b: 418 };
const H6: Box = { l: 732, t: 248, r: 934, b: 418 };
const BX1: Box = { l: 1015, t: 3, r: 1298, b: 123 };
const BX2: Box = { l: 1015, t: 144, r: 1298, b: 265 };
const BX3: Box = { l: 1015, t: 287, r: 1298, b: 407 };

const mLine: Margin = { left: 41, top: 3, right: 10, bottom: 22 };
const mHist: Margin = { left: 12, top: 3, right: 8, bottom: 22 };
const mBox: Margin = { left: 42, top: 3, right: 3, bottom: 8 };
const mBox3: Margin = { left: 42, top: 3, right: 3, bottom: 18 };

const stage = (q1: number[], med: number[], q3: number[], lo: number[], hi: number[], out: number[][]): Stage => ({ q1, med, q3, lo, hi, out });

export default function App() {
  return (
    <div style={{ position: "absolute", left: 0, top: 0, width: 1301, height: 492, overflow: "hidden", background: "#fff" }}>
      <Panel
        box={L1}
        m={mLine}
        build={() =>
          lineConfig([BEFORE_PC1, BEFORE_PC2_1, BEFORE_PC2_2, BEFORE_PC4_1, BEFORE_PC4_2, BEFORE_PC4_3, BEFORE_PC4_4], -0.165, 0.334, BEFORE_Y_TICKS, 1, mLine, 6.4)
        }
      />
      <Panel
        box={L2}
        m={mLine}
        build={() =>
          lineConfig([AFTER_PC1, AFTER_PC2_1, AFTER_PC2_2, AFTER_PC4_1, AFTER_PC4_2, AFTER_PC4_3, AFTER_PC4_4], -2.37, 2.39, AFTER_Y_TICKS, 0, mLine, 11.9)
        }
      />
      <Panel
        box={H1}
        m={mHist}
        build={() => histConfig(-0.116, 0.257, 5.07, H1_TICKS, 2, [{ edges: B1_BLUE_EDGES, heights: B1_BLUE_H, kx: B1_BLUE_KX, ky: B1_BLUE_KY, c: 0 }], mHist)}
      />
      <Panel
        box={H2}
        m={mHist}
        build={() =>
          histConfig(-0.146, 0.322, 5.07, H2_TICKS, 1, [
            { edges: B2_BLUE_EDGES, heights: B2_BLUE_H, kx: B2_BLUE_KX, ky: B2_BLUE_KY, c: 0 },
            { edges: B2_ORANGE_EDGES, heights: B2_ORANGE_H, kx: B2_ORANGE_KX, ky: B2_ORANGE_KY, c: 1 },
          ], mHist)
        }
      />
      <Panel
        box={H3}
        m={mHist}
        build={() =>
          histConfig(-0.276, 0.48, 5.07, H3_TICKS, 1, [
            { edges: B4_BLUE_EDGES, heights: B4_BLUE_H, kx: B4_BLUE_KX, ky: B4_BLUE_KY, c: 0 },
            { edges: B4_ORANGE_EDGES, heights: B4_ORANGE_H, kx: B4_ORANGE_KX, ky: B4_ORANGE_KY, c: 1 },
            { edges: B4_GREEN_EDGES, heights: B4_GREEN_H, kx: B4_GREEN_KX, ky: B4_GREEN_KY, c: 2 },
            { edges: B4_RED_EDGES, heights: B4_RED_H, kx: B4_RED_KX, ky: B4_RED_KY, c: 3 },
          ], mHist)
        }
      />
      <Panel
        box={H4}
        m={mHist}
        build={() => histConfig(-9.01, 5.87, 5.11, H4_TICKS, 0, [{ edges: A1_BLUE_EDGES, heights: A1_BLUE_H, kx: A1_BLUE_KX, ky: A1_BLUE_KY, c: 0 }], mHist)}
      />
      <Panel
        box={H5}
        m={mHist}
        build={() =>
          histConfig(-1.98, 1.9, 5.11, H5_TICKS, 1, [
            { edges: A2_BLUE_EDGES, heights: A2_BLUE_H, kx: A2_BLUE_KX, ky: A2_BLUE_KY, c: 0 },
            { edges: A2_ORANGE_EDGES, heights: A2_ORANGE_H, kx: A2_ORANGE_KX, ky: A2_ORANGE_KY, c: 1 },
          ], mHist)
        }
      />
      <Panel
        box={H6}
        m={mHist}
        build={() =>
          histConfig(-4.13, 4.28, 5.1, H6_TICKS, 0, [
            { edges: A4_BLUE_EDGES, heights: A4_BLUE_H, kx: A4_BLUE_KX, ky: A4_BLUE_KY, c: 0 },
            { edges: A4_ORANGE_EDGES, heights: A4_ORANGE_H, kx: A4_ORANGE_KX, ky: A4_ORANGE_KY, c: 1 },
            { edges: A4_GREEN_EDGES, heights: A4_GREEN_H, kx: A4_GREEN_KX, ky: A4_GREEN_KY, c: 2 },
            { edges: A4_RED_EDGES, heights: A4_RED_H, kx: A4_RED_KX, ky: A4_RED_KY, c: 3 },
          ], mHist)
        }
      />
      <Panel box={BX1} m={mBox} build={() => boxConfig(stage(S1_Q1, S1_MED, S1_Q3, S1_LO, S1_HI, S1_OUT), -0.0072, 0.00488, S1_TICKS, 3, false, mBox)} />
      <Panel box={BX2} m={mBox} build={() => boxConfig(stage(S2_Q1, S2_MED, S2_Q3, S2_LO, S2_HI, S2_OUT), -0.0068, 0.0084, S2_TICKS, 4, false, mBox)} />
      <Panel box={BX3} m={mBox3} build={() => boxConfig(stage(S3_Q1, S3_MED, S3_Q3, S3_LO, S3_HI, S3_OUT), -0.0186, 0.0232, S3_TICKS, 2, true, mBox3)} />

      <Legend left={43} top={5} width={67} height={84} first={7.5} gap={11.1} />
      <Legend left={44} top={250} width={66} height={83} first={7.2} gap={11.3} />

      <Txt x={314} base={19.3} fs={18} font={SERIF}>PC(x,1)</Txt>
      <Txt x={527} base={19.3} fs={18} font={SERIF}>PC(x,2)</Txt>
      <Txt x={737} base={19.3} fs={18} font={SERIF}>PC(x,4)</Txt>
      <Txt x={314} base={267.7} fs={18} font={SERIF}>PC(x,1)</Txt>
      <Txt x={527} base={267.7} fs={18} font={SERIF}>PC(x,2)</Txt>
      <Txt x={737} base={267.7} fs={18} font={SERIF}>PC(x,4)</Txt>
      <Txt x={507} base={439} fs={7.1} font={SANS} anchor="right" color={TEXT}>1e−7</Txt>

      <Txt x={501.7} base={208.3} fs={18} font={SERIF} anchor="center">Before PN</Txt>
      <Txt x={501} base={460} fs={18} font={SERIF} anchor="center">After PN</Txt>
      <Txt x={472} base={483} fs={21} font={SERIF} anchor="center">(a) The multi-scale pixel context feature distributions before and after PN.</Txt>

      <Txt x={1133} base={138.5} fs={18} font={SERIF}>Stage_1</Txt>
      <Txt x={1122.7} base={281} fs={18} font={SERIF}>Stage_2</Txt>
      <Txt x={1116} base={440} fs={18} font={SERIF}>Stage_3</Txt>
      <Txt x={1155} base={459} fs={18} font={SERIF} anchor="center">Multi-scale pixel weight distributions</Txt>
      <Txt x={915} base={483} fs={21} font={SERIF}>(b) Multi-scale pixel weight distributions of PN.</Txt>
    </div>
  );
}
